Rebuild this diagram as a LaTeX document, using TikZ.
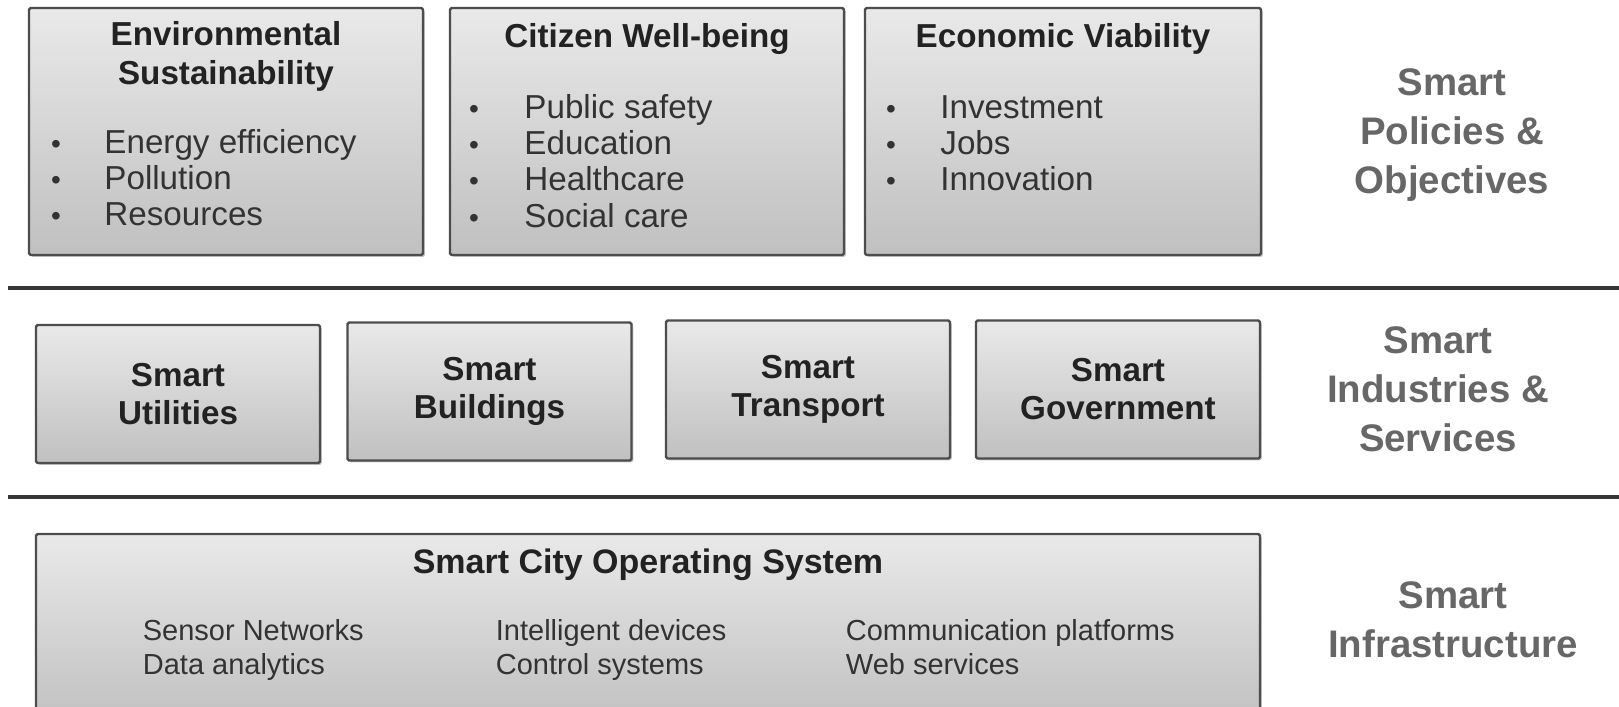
\documentclass[tikz,border=0pt]{standalone}
\usepackage{fontspec}
\setmainfont{Liberation Sans}
\usetikzlibrary{shadows}
\definecolor{boxtop}{HTML}{E9E9E9}
\definecolor{boxbot}{HTML}{C0C0C0}
\definecolor{boxline}{HTML}{4D4D4D}
\definecolor{rulecol}{HTML}{363636}
\definecolor{labelcol}{HTML}{676767}
\definecolor{txt}{HTML}{222222}
\definecolor{itemtxt}{HTML}{333333}
\tikzset{
  panel/.style={draw=boxline, line width=1.2pt, top color=boxtop, bottom color=boxbot,
    inner sep=0pt, rounded corners=0.8pt,
    drop shadow={shadow xshift=0.9pt, shadow yshift=-0.9pt, fill=black, opacity=0.22}},
  topbox/.style={panel, minimum width=197pt, minimum height=123.5pt},
  midbox/.style={panel, minimum width=142pt, minimum height=69pt, align=center,
    font=\fontsize{16.6}{19}\selectfont\bfseries, text=txt},
  title/.style={inner sep=0pt, font=\fontsize{16.6}{19}\selectfont\bfseries, text=txt, anchor=base},
  item/.style={inner sep=0pt, font=\fontsize{16.6}{19}\selectfont, text=itemtxt, anchor=base west},
  bul/.style={inner sep=0pt, font=\fontsize{14}{16}\selectfont, text=itemtxt, anchor=base},
  sub/.style={inner sep=0pt, font=\fontsize{14.5}{17}\selectfont, text=itemtxt, anchor=base west},
  side/.style={inner sep=0pt, align=center, font=\fontsize{19.2}{24.5}\selectfont\bfseries, text=labelcol},
  rule/.style={draw=rulecol, line width=2pt},
}
\begin{document}
\begin{tikzpicture}[x=0.5pt, y=-0.5pt]
\useasboundingbox (0,0) rectangle (1619,707);
\fill[white] (0,0) rectangle (1619,707);
\clip (0,0) rectangle (1619,707);

% ---- top row: policies & objectives
\node[topbox] (env) at (226,131.5) {};
\node[topbox] (cit) at (647,131.5) {};
\node[topbox, minimum width=198pt] (eco) at (1063,131.5) {};

\node[title] (envt1) at (226,45) {Environmental};
\node[title] (envt2) at (226,84) {Sustainability};
\node[title] (citt) at (647,47) {Citizen Well-being};
\node[title] (ecot) at (1063,47) {Economic Viability};

\foreach \t [count=\i] in {Energy efficiency, Pollution, Resources}{
  \node[bul] (envb\i) at (56,{153.5+36.2*(\i-1)}) {\textbullet};
  \node[item] (envi\i) at (104,{153.5+36.2*(\i-1)}) {\t};
}
\foreach \t [count=\i] in {Public safety, Education, Healthcare, Social care}{
  \node[bul] (citb\i) at (474,{118.5+36.2*(\i-1)}) {\textbullet};
  \node[item] (citi\i) at (524,{118.5+36.2*(\i-1)}) {\t};
}
\foreach \t [count=\i] in {Investment, Jobs, Innovation}{
  \node[bul] (ecob\i) at (891,{118.5+36.2*(\i-1)}) {\textbullet};
  \node[item] (ecoi\i) at (940,{118.5+36.2*(\i-1)}) {\t};
}

\node[side] (lab1) at (1452,135) {Smart\\Policies \&\\Objectives};

% ---- separators
\coordinate (r1a) at (8,288);
\coordinate (r1b) at (1619,288);
\draw[rule] (r1a) -- (r1b);
\coordinate (r2a) at (8,497);
\coordinate (r2b) at (1619,497);
\draw[rule] (r2a) -- (r2b);

% ---- middle row: industries & services
\node[midbox] (util) at (178,394) {Smart\\Utilities};
\node[midbox] (bldg) at (489.5,391.5) {Smart\\Buildings};
\node[midbox] (trans) at (808,389.5) {Smart\\Transport};
\node[midbox] (gov) at (1118,389.5) {Smart\\Government};

\node[side] (lab2) at (1438,389) {Smart\\Industries \&\\Services};

% ---- bottom: infrastructure
\node[panel, minimum width=612pt, minimum height=95pt] (os) at (648,629) {};
\node[title, font=\fontsize{17}{20}\selectfont\bfseries] (ost) at (648,573) {Smart City Operating System};
\node[sub] (s1) at (142.5,640) {Sensor Networks};
\node[sub] (s2) at (142.5,674) {Data analytics};
\node[sub] (s3) at (495.5,640) {Intelligent devices};
\node[sub] (s4) at (495.5,674) {Control systems};
\node[sub] (s5) at (845.5,640) {Communication platforms};
\node[sub] (s6) at (845.5,674) {Web services};

\node[side] (lab3) at (1453,620) {Smart\\Infrastructure};
\end{tikzpicture}
\end{document}
